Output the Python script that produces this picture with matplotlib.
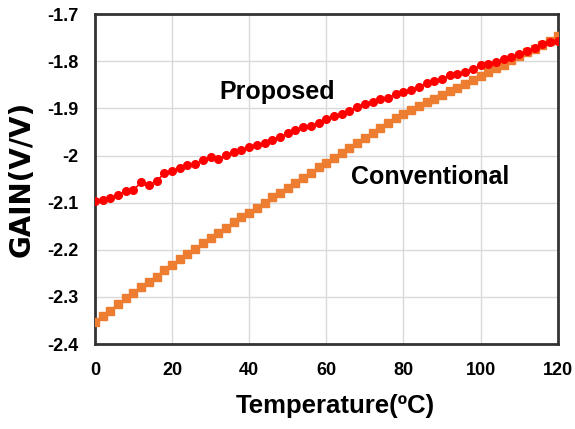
# -*- coding: utf-8 -*-
"""
Gain vs temperature, proposed and conventional circuit
"""

import matplotlib
matplotlib.use("Agg")
import matplotlib.pyplot as plt

# Data (every 2 degC)
temperature = [0, 2, 4, 6, 8, 10, 12, 14, 16, 18, 20, 22, 24, 26, 28, 30,
               32, 34, 36, 38, 40, 42, 44, 46, 48, 50, 52, 54, 56, 58, 60,
               62, 64, 66, 68, 70, 72, 74, 76, 78, 80, 82, 84, 86, 88, 90,
               92, 94, 96, 98, 100, 102, 104, 106, 108, 110, 112, 114, 116,
               118, 120]

gain_proposed = [-2.097, -2.095, -2.091, -2.084, -2.075, -2.073, -2.057,
                 -2.062, -2.054, -2.038, -2.032, -2.027, -2.021, -2.017,
                 -2.010, -2.003, -2.007, -1.999, -1.993, -1.989, -1.982,
                 -1.977, -1.973, -1.966, -1.960, -1.953, -1.946, -1.940,
                 -1.937, -1.931, -1.923, -1.917, -1.912, -1.905, -1.898,
                 -1.890, -1.886, -1.881, -1.877, -1.870, -1.865, -1.860,
                 -1.854, -1.847, -1.842, -1.837, -1.830, -1.826, -1.822,
                 -1.816, -1.808, -1.805, -1.802, -1.795, -1.790, -1.785,
                 -1.778, -1.771, -1.764, -1.760, -1.758]

gain_conventional = [-2.353, -2.341, -2.329, -2.315, -2.303, -2.291, -2.279,
                     -2.268, -2.257, -2.243, -2.232, -2.220, -2.209, -2.199,
                     -2.186, -2.176, -2.165, -2.153, -2.142, -2.131, -2.122,
                     -2.112, -2.100, -2.089, -2.079, -2.068, -2.058, -2.047,
                     -2.037, -2.025, -2.015, -2.005, -1.994, -1.984, -1.973,
                     -1.962, -1.952, -1.941, -1.931, -1.921, -1.912, -1.903,
                     -1.895, -1.887, -1.879, -1.871, -1.864, -1.856, -1.848,
                     -1.840, -1.831, -1.823, -1.815, -1.807, -1.797, -1.789,
                     -1.781, -1.773, -1.765, -1.756, -1.747]

x_ticks = [0, 20, 40, 60, 80, 100, 120]
y_ticks = [-2.4, -2.3, -2.2, -2.1, -2.0, -1.9, -1.8, -1.7]
y_tick_labels = ["-2.4", "-2.3", "-2.2", "-2.1", "-2", "-1.9", "-1.8", "-1.7"]

#%%
plt.rcParams['font.family'] = ['Liberation Sans', 'DejaVu Sans']
plt.rcParams['font.weight'] = 'bold'

fig = plt.figure(figsize=(5.75, 4.29), dpi=100)
ax = fig.add_axes([0.165, 0.198, 0.805, 0.769])

ax.plot(temperature, gain_conventional, color='#ed7d31', marker='s',
        markersize=5.5, linewidth=1.2, zorder=3)
ax.plot(temperature, gain_proposed, color='#ff0000', marker='o',
        markersize=5.5, linewidth=1.2, zorder=4)

ax.set_xlim(0, 120)
ax.set_ylim(-2.4, -1.7)
ax.set_xticks(x_ticks)
ax.set_yticks(y_ticks)
ax.set_yticklabels(y_tick_labels)
ax.tick_params(length=0, labelsize=13)
ax.tick_params(axis='x', pad=13)
ax.tick_params(axis='y', pad=12)

ax.grid(True, color='#d9d9d9', linewidth=1)
ax.set_axisbelow(True)
for side in ax.spines.values():
    side.set_linewidth(2)
    side.set_color('#333333')

ax.set_xlabel('Temperature(ºC)', fontsize=18.5, fontweight='bold')
ax.xaxis.set_label_coords(0.52, -0.152)
ax.set_ylabel('GAIN(V/V)', fontsize=20, fontweight='bold', labelpad=8,
              family=['DejaVu Sans'])

# Curve names
ax.text(47.2, -1.866, 'Proposed', fontsize=18, fontweight='bold',
        ha='center', va='center')
ax.text(86.8, -2.046, 'Conventional', fontsize=18, fontweight='bold',
        ha='center', va='center')

fig.savefig('out.png', dpi=100)
